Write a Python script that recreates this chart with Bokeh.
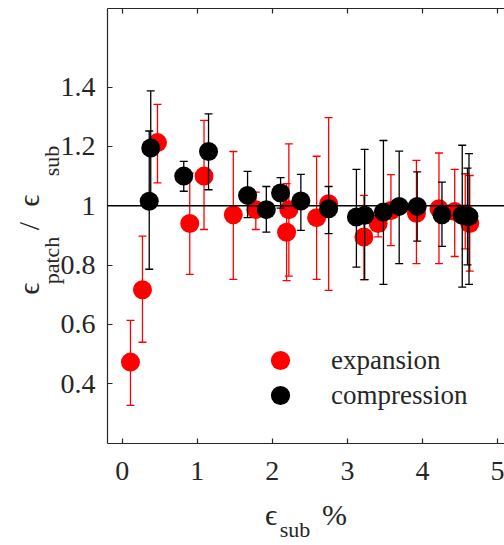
from bokeh.plotting import figure
from bokeh.models import (Range1d, LinearAxis, FixedTicker, Span, Legend,
                          LegendItem, ColumnDataSource)
from bokeh.embed import file_html
from bokeh.resources import INLINE

# ---------------- data ----------------
exp_x = [0.11, 0.27, 0.47, 0.90, 1.09, 1.48, 1.78, 2.19, 2.22, 2.59, 2.75,
         3.22, 3.41, 3.58, 3.92, 4.22, 4.43, 4.57, 4.63]
exp_y = [0.473, 0.717, 1.213, 0.940, 1.100, 0.970, 0.987, 0.911, 0.987, 0.960, 1.007,
         0.895, 0.940, 0.984, 0.975, 0.990, 0.981, 0.973, 0.940]
exp_hi = [0.614, 0.898, 1.342, 1.110, 1.288, 1.183, 1.046, 1.075, 1.209, 1.167, 1.297,
          1.035, 0.985, 1.105, 1.153, 1.178, 1.123, 1.108, 1.102]
exp_lo = [0.327, 0.540, 1.077, 0.769, 0.920, 0.752, 0.920, 0.748, 0.763, 0.752, 0.715,
          0.751, 0.895, 0.866, 0.805, 0.805, 0.829, 0.855, 0.780]

cmp_x = [0.36, 0.38, 0.82, 1.15, 1.67, 1.92, 2.11, 2.38, 2.75, 3.12, 3.23, 3.48,
         3.69, 3.93, 4.26, 4.53, 4.60, 4.62]
cmp_y = [1.015, 1.195, 1.100, 1.183, 1.035, 0.987, 1.043, 1.016, 0.990, 0.962, 0.968,
         0.979, 0.998, 0.998, 0.970, 0.968, 0.964, 0.964]
cmp_hi = [1.252, 1.387, 1.150, 1.310, 1.116, 1.065, 1.095, 1.106, 1.065, 1.123, 1.190,
          1.220, 1.184, 1.114, 1.080, 1.204, 1.127, 1.176]
cmp_lo = [0.786, 1.000, 1.049, 1.054, 0.960, 0.911, 0.992, 0.917, 0.906, 0.793, 0.751,
          0.735, 0.805, 0.881, 0.863, 0.726, 0.801, 0.735]

series_names = ["expansion", "compression"]
x_ticks = [0, 1, 2, 3, 4, 5]
y_ticks = [0.4, 0.6, 0.8, 1.0, 1.2, 1.4]
y_tick_labels = ["0.4", "0.6", "0.8", "1", "1.2", "1.4"]
ref_level = 1.0

# axis title pieces (main symbol / subscripts)
NB = "\u00a0"
x_title_main = "ϵ" + NB * 6 + "%"
x_title_sub = "sub" + NB * 4
y_title_main = "ϵ" + NB * 7 + "/" + NB * 2 + "ϵ" + NB * 5
y_title_sub = NB * 5 + "patch" + NB * 11 + "sub" + NB

# ---------------- styling ----------------
AX = "#262626"
FONT = "'Liberation Serif', 'Times New Roman', serif"
RED = "#ff0000"
BLACK = "#000000"

p = figure(width=504, height=545, output_backend="svg", toolbar_location=None,
           x_range=Range1d(-0.196, 5.093), y_range=Range1d(0.1987, 1.665),
           min_border_left=107, min_border_right=0, min_border_top=8,
           min_border_bottom=102)
p.outline_line_color = None
p.xgrid.visible = False
p.ygrid.visible = False
p.background_fill_color = "white"
p.border_fill_color = "white"

bottom = p.below[0]
left = p.left[0]

top = LinearAxis(ticker=FixedTicker(ticks=x_ticks), major_label_standoff=0,
                 major_label_overrides={t: "" for t in x_ticks})
p.add_layout(top, "above")

for ax in (bottom, left, top):
    ax.axis_line_color = AX
    ax.axis_line_width = 1.2
    ax.major_tick_line_color = AX
    ax.major_tick_line_width = 1.2
    ax.major_tick_in = 5
    ax.major_tick_out = 0
    ax.minor_tick_line_color = None
    ax.major_label_text_font = FONT
    ax.major_label_text_color = AX
    ax.major_label_text_font_size = "28px"

bottom.ticker = FixedTicker(ticks=x_ticks)
bottom.major_label_standoff = 18
left.ticker = FixedTicker(ticks=y_ticks)
left.major_label_standoff = 12
left.major_label_overrides = {t: s for t, s in zip(y_ticks, y_tick_labels)}


def title_style(ax, text, size, standoff):
    ax.axis_label = text
    ax.axis_label_text_font = FONT
    ax.axis_label_text_font_size = size
    ax.axis_label_text_font_style = "normal"
    ax.axis_label_text_color = AX
    ax.axis_label_standoff = standoff


def helper_axis():
    return LinearAxis(ticker=FixedTicker(ticks=[]), axis_line_color=None,
                      major_tick_line_color=None, minor_tick_line_color=None,
                      major_label_standoff=0, major_tick_in=0, major_tick_out=0)


# x title: main line on the bottom axis, subscript on a helper axis below it
title_style(bottom, x_title_main, "30px", 15)
x_sub_ax = helper_axis()
title_style(x_sub_ax, x_title_sub, "22px", -17)
p.add_layout(x_sub_ax, "below")

# y title: subscripts on the main left axis, main symbols on a helper axis
title_style(left, y_title_sub, "22px", -6)
y_main_ax = helper_axis()
title_style(y_main_ax, y_title_main, "30px", -9)
p.add_layout(y_main_ax, "left")

# ---------------- error bars and points ----------------
src_e = ColumnDataSource(dict(x=exp_x, y=exp_y, hi=exp_hi, lo=exp_lo))
src_c = ColumnDataSource(dict(x=cmp_x, y=cmp_y, hi=cmp_hi, lo=cmp_lo))

p.segment(x0="x", y0="lo", x1="x", y1="hi", source=src_e, line_color=RED, line_width=1.3)
p.scatter(x="x", y="hi", source=src_e, marker="dash", size=8, line_color=RED, line_width=1.3)
p.scatter(x="x", y="lo", source=src_e, marker="dash", size=8, line_color=RED, line_width=1.3)
r_exp = p.scatter(x="x", y="y", source=src_e, size=19, fill_color=RED, line_color=None)

p.segment(x0="x", y0="lo", x1="x", y1="hi", source=src_c, line_color=BLACK, line_width=1.3)
p.scatter(x="x", y="hi", source=src_c, marker="dash", size=8, line_color=BLACK, line_width=1.3)
p.scatter(x="x", y="lo", source=src_c, marker="dash", size=8, line_color=BLACK, line_width=1.3)
r_cmp = p.scatter(x="x", y="y", source=src_c, size=19, fill_color=BLACK, line_color=None)

p.add_layout(Span(location=ref_level, dimension="width", line_color=BLACK, line_width=1.4))

# ---------------- legends (one per entry) ----------------
for name, rend, loc in ((series_names[0], r_exp, (149, 59)),
                        (series_names[1], r_cmp, (149, 24))):
    lg = Legend(items=[LegendItem(label=name, renderers=[rend])], location=loc,
                glyph_width=48, glyph_height=48, label_standoff=27, padding=0,
                margin=0, spacing=0, border_line_color=None,
                background_fill_alpha=0, label_text_font=FONT,
                label_text_font_size="27px", label_text_color=AX,
                label_text_baseline="middle")
    p.add_layout(lg)

open("out.html", "w").write(file_html(p, INLINE))
